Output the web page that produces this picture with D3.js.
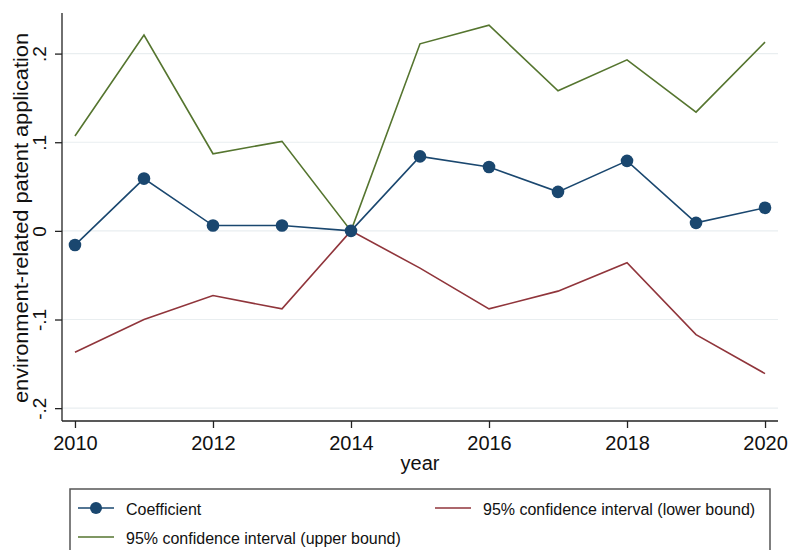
<!DOCTYPE html>
<html>
<head>
<meta charset="utf-8">
<script src="https://cdn.jsdelivr.net/npm/d3@7"></script>
<style>
  html, body { margin: 0; padding: 0; background: #fff; }
  svg { display: block; font-family: "Liberation Sans", Arial, Helvetica, sans-serif; }
</style>
</head>
<body>
<svg id="chart" width="788" height="550"></svg>
<script>
// Event-study estimates by year
const years = [2010, 2011, 2012, 2013, 2014, 2015, 2016, 2017, 2018, 2019, 2020];
const coefficient = [-0.016, 0.059, 0.006, 0.006, 0.0, 0.084, 0.072, 0.044, 0.079, 0.009, 0.026];
const upperBound = [0.107, 0.221, 0.087, 0.101, 0.0, 0.211, 0.232, 0.158, 0.193, 0.134, 0.213];
const lowerBound = [-0.137, -0.100, -0.073, -0.088, 0.0, -0.042, -0.088, -0.068, -0.036, -0.117, -0.161];

const xTicks = [2010, 2012, 2014, 2016, 2018, 2020];
const yTicks = [-0.2, -0.1, 0, 0.1, 0.2];
const yTickLabels = ["-.2", "-.1", "0", ".1", ".2"];

const seriesNames = ["Coefficient", "95% confidence interval (lower bound)", "95% confidence interval (upper bound)"];

const NAVY = "#1a476f", MAROON = "#90353b", GREEN = "#55752f";

const svg = d3.select("#chart");
const plot = { left: 62, right: 778, top: 13, bottom: 421 };

const x = d3.scaleLinear().domain([2009.812, 2020.188]).range([plot.left, plot.right]);
const y = d3.scaleLinear().domain([-0.2145, 0.2458]).range([plot.bottom, plot.top]);

// gridlines
svg.append("g")
  .selectAll("line")
  .data(yTicks)
  .join("line")
  .attr("x1", plot.left).attr("x2", plot.right)
  .attr("y1", d => y(d)).attr("y2", d => y(d))
  .attr("stroke", "#e9eef0").attr("stroke-width", 1.2);

// y axis
const yAxis = svg.append("g")
  .attr("transform", `translate(${plot.left},0)`)
  .call(d3.axisLeft(y).tickValues(yTicks).tickSize(7).tickPadding(0)
    .tickFormat((d, i) => yTickLabels[i]));
yAxis.select(".domain").attr("stroke", "#222").attr("stroke-width", 1.3)
  .attr("d", `M0,${plot.bottom}V${plot.top}`);
yAxis.selectAll(".tick line").attr("stroke", "#222").attr("stroke-width", 1.3);
yAxis.selectAll(".tick text")
  .attr("x", -16).attr("dy", 0).attr("y", 0)
  .attr("transform", "rotate(-90)")
  .attr("text-anchor", "middle")
  .style("font-size", "19px").style("fill", "#111");
// place rotated labels: rotate about tick then shift
yAxis.selectAll(".tick text")
  .attr("transform", "translate(-16,0) rotate(-90)")
  .attr("x", 0).attr("y", 0);

// x axis
const xAxis = svg.append("g")
  .attr("transform", `translate(0,${plot.bottom})`)
  .call(d3.axisBottom(x).tickValues(xTicks).tickSize(7).tickPadding(0)
    .tickFormat(d3.format("d")));
xAxis.select(".domain").attr("stroke", "#222").attr("stroke-width", 1.3)
  .attr("d", `M${plot.left},0H${plot.right}`);
xAxis.selectAll(".tick line").attr("stroke", "#222").attr("stroke-width", 1.3);
xAxis.selectAll(".tick text")
  .attr("y", 29).attr("dy", 0)
  .style("font-size", "20px").style("fill", "#111");

// axis titles
svg.append("text")
  .attr("x", (plot.left + plot.right) / 2).attr("y", 470)
  .attr("text-anchor", "middle")
  .style("font-size", "20px").style("fill", "#111")
  .text("year");

svg.append("text")
  .attr("transform", `translate(28,218) rotate(-90)`)
  .attr("text-anchor", "middle")
  .attr("textLength", 370).attr("lengthAdjust", "spacingAndGlyphs")
  .style("font-size", "19.5px").style("fill", "#111")
  .text("environment-related patent application");

// series lines
const line = d3.line().x((d, i) => x(years[i])).y(d => y(d));

svg.append("path").datum(upperBound)
  .attr("d", line).attr("fill", "none")
  .attr("stroke", GREEN).attr("stroke-width", 1.6).attr("stroke-linejoin", "miter");

svg.append("path").datum(lowerBound)
  .attr("d", line).attr("fill", "none")
  .attr("stroke", MAROON).attr("stroke-width", 1.6).attr("stroke-linejoin", "miter");

svg.append("path").datum(coefficient)
  .attr("d", line).attr("fill", "none")
  .attr("stroke", NAVY).attr("stroke-width", 1.6);

svg.append("g")
  .selectAll("circle")
  .data(coefficient)
  .join("circle")
  .attr("cx", (d, i) => x(years[i]))
  .attr("cy", d => y(d))
  .attr("r", 6.3)
  .attr("fill", NAVY);

// legend
const legend = svg.append("g");
legend.append("rect")
  .attr("x", 70).attr("y", 489).attr("width", 700).attr("height", 80)
  .attr("fill", "#fff").attr("stroke", "#555").attr("stroke-width", 1.5);

const legendItems = [
  { name: seriesNames[0], color: NAVY, marker: true, lx: 78, ly: 508 },
  { name: seriesNames[1], color: MAROON, marker: false, lx: 435, ly: 508 },
  { name: seriesNames[2], color: GREEN, marker: false, lx: 78, ly: 537 }
];
const item = legend.selectAll("g.item").data(legendItems).join("g")
  .attr("class", "item")
  .attr("transform", d => `translate(${d.lx},${d.ly})`);
item.append("line")
  .attr("x1", 0).attr("x2", 36).attr("y1", 0).attr("y2", 0)
  .attr("stroke", d => d.color).attr("stroke-width", 1.6);
item.filter(d => d.marker).append("circle")
  .attr("cx", 18).attr("cy", 0).attr("r", 6).attr("fill", d => d.color);
item.append("text")
  .attr("x", 48).attr("y", 6.5)
  .style("font-size", "16px").style("fill", "#111")
  .text(d => d.name);
</script>
</body>
</html>
